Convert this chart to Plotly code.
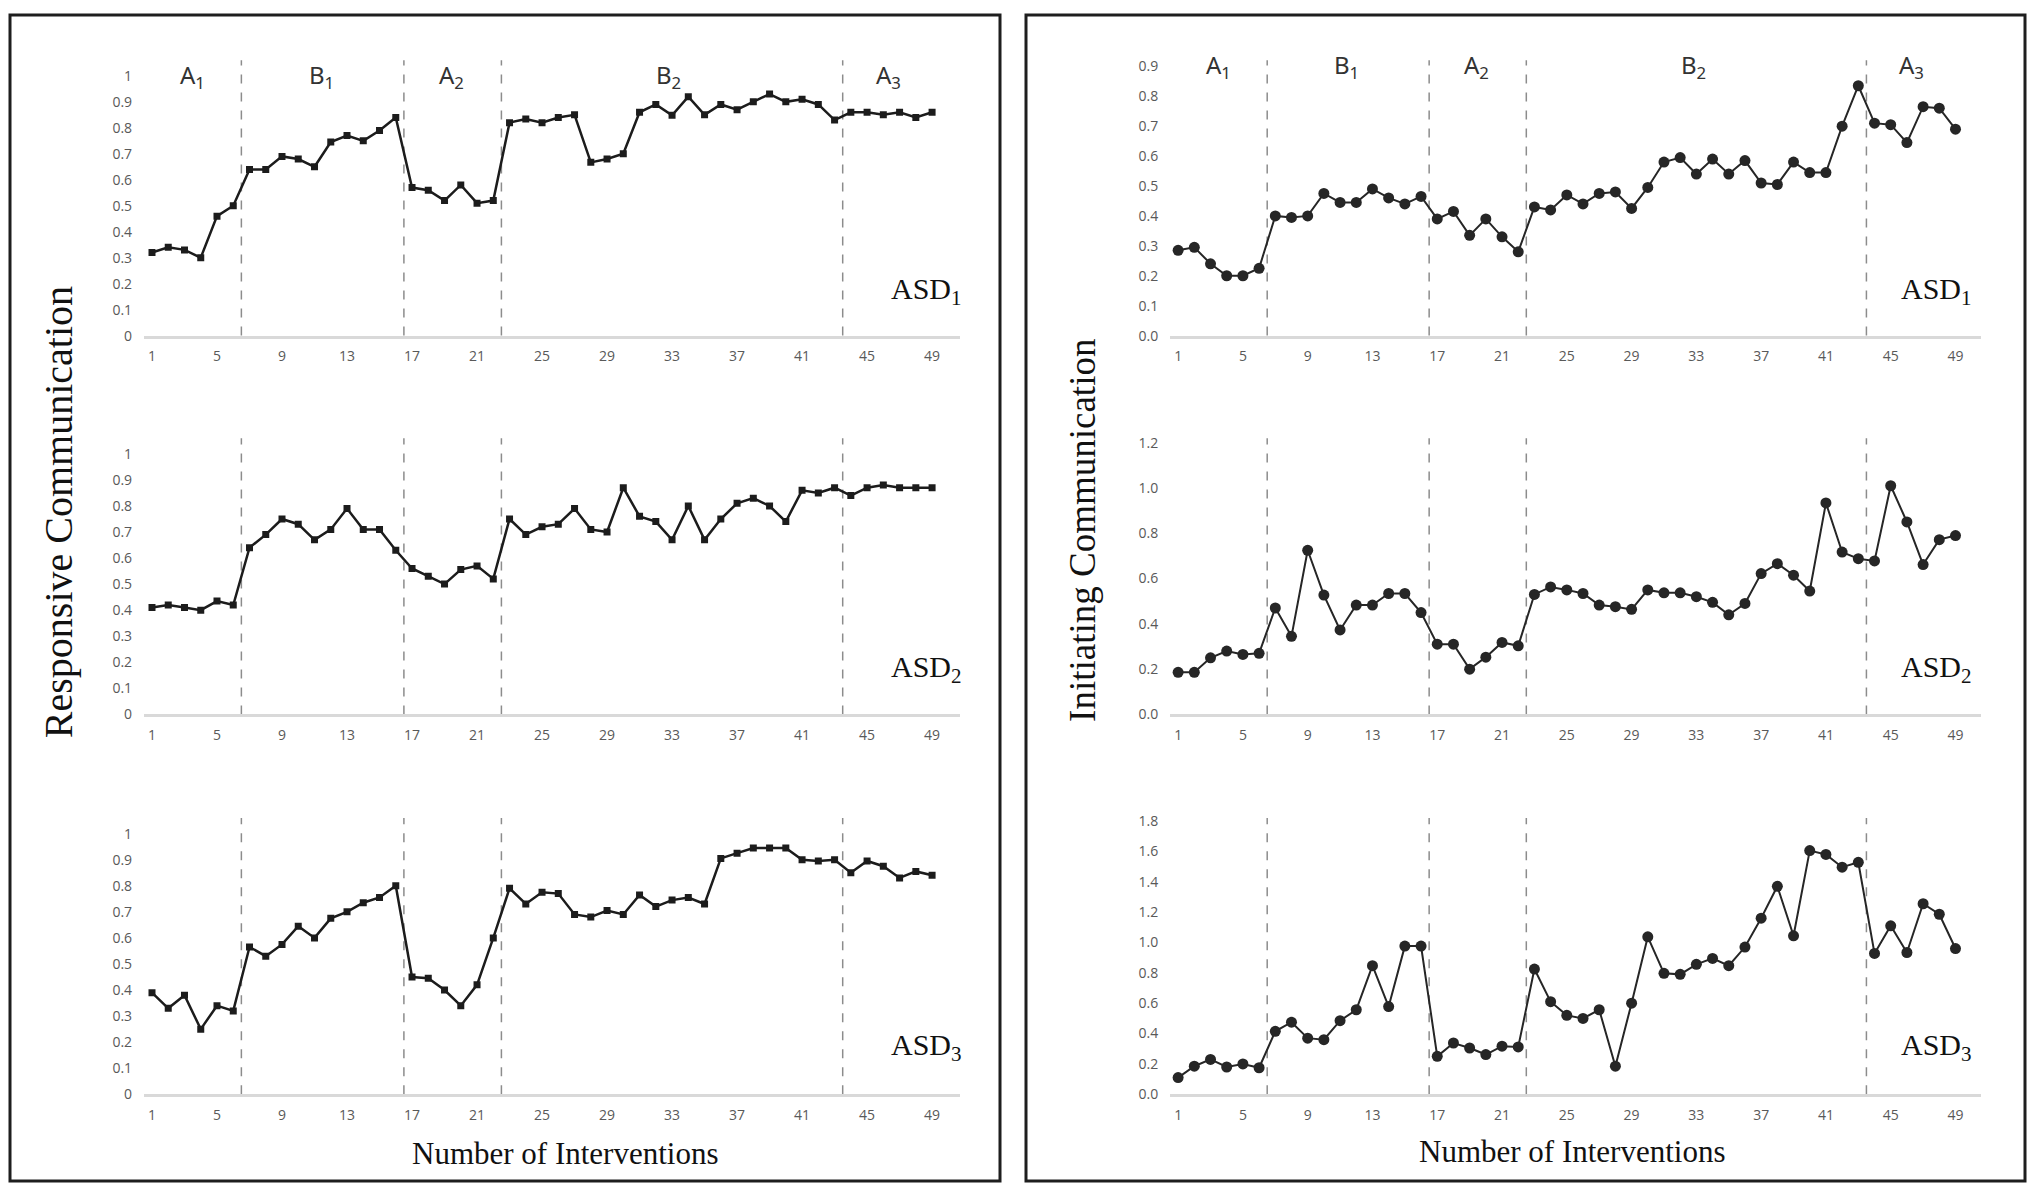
import plotly.graph_objects as go

# ---- data -------------------------------------------------------------
SESSIONS = list(range(1, 50))
PHASE_BREAKS = [6.5, 16.5, 22.5, 43.5]
PHASE_NAMES = ['A<sub>1</sub>', 'B<sub>1</sub>', 'A<sub>2</sub>', 'B<sub>2</sub>', 'A<sub>3</sub>']
PHASE_CENTERS = [3.5, 11.4, 19.4, 32.8, 46.3]
CHILDREN = ['ASD<sub>1</sub>', 'ASD<sub>2</sub>', 'ASD<sub>3</sub>']

resp_asd1 = [0.32, 0.34, 0.33, 0.30, 0.46, 0.50,
             0.64, 0.64, 0.69, 0.68, 0.65, 0.745, 0.77, 0.75, 0.79, 0.84,
             0.57, 0.56, 0.52, 0.58, 0.51, 0.52,
             0.82, 0.834, 0.82, 0.84, 0.85, 0.667, 0.68, 0.70, 0.86, 0.89, 0.848,
             0.92, 0.85, 0.89, 0.87, 0.90, 0.93, 0.90, 0.91, 0.89, 0.83,
             0.86, 0.86, 0.85, 0.86, 0.84, 0.86]
resp_asd2 = [0.41, 0.42, 0.41, 0.40, 0.435, 0.42,
             0.64, 0.69, 0.75, 0.73, 0.67, 0.71, 0.79, 0.71, 0.71, 0.63,
             0.56, 0.53, 0.50, 0.556, 0.57, 0.52,
             0.75, 0.69, 0.72, 0.73, 0.79, 0.71, 0.70, 0.87, 0.76, 0.74, 0.67,
             0.80, 0.67, 0.75, 0.81, 0.83, 0.80, 0.74, 0.86, 0.85, 0.87,
             0.84, 0.87, 0.88, 0.87, 0.87, 0.87]
resp_asd3 = [0.39, 0.33, 0.38, 0.25, 0.34, 0.32,
             0.565, 0.53, 0.575, 0.645, 0.60, 0.675, 0.70, 0.735, 0.755, 0.80,
             0.45, 0.445, 0.40, 0.34, 0.42, 0.60,
             0.79, 0.73, 0.775, 0.77, 0.69, 0.68, 0.705, 0.69, 0.765, 0.72, 0.745,
             0.755, 0.73, 0.905, 0.925, 0.945, 0.945, 0.945, 0.90, 0.895, 0.90,
             0.85, 0.895, 0.875, 0.83, 0.855, 0.84]

init_asd1 = [0.285, 0.295, 0.24, 0.20, 0.20, 0.225,
             0.40, 0.395, 0.40, 0.475, 0.445, 0.445, 0.49, 0.46, 0.44, 0.465,
             0.39, 0.415, 0.335, 0.39, 0.33, 0.28,
             0.43, 0.42, 0.47, 0.44, 0.475, 0.48, 0.425, 0.495, 0.58, 0.595, 0.54,
             0.59, 0.54, 0.585, 0.51, 0.505, 0.58, 0.545, 0.545, 0.70, 0.835,
             0.71, 0.705, 0.645, 0.765, 0.76, 0.69]
init_asd2 = [0.186, 0.186, 0.25, 0.28, 0.265, 0.27,
             0.47, 0.345, 0.725, 0.527, 0.373, 0.483, 0.483, 0.534, 0.534, 0.45,
             0.31, 0.31, 0.20, 0.253, 0.318, 0.303,
             0.53, 0.563, 0.55, 0.534, 0.483, 0.476, 0.464, 0.55, 0.537, 0.537, 0.52,
             0.495, 0.44, 0.49, 0.622, 0.666, 0.615, 0.545, 0.934, 0.717, 0.688,
             0.678, 1.01, 0.85, 0.662, 0.772, 0.79]
init_asd3 = [0.11, 0.185, 0.23, 0.18, 0.20, 0.175,
             0.415, 0.475, 0.37, 0.36, 0.485, 0.557, 0.847, 0.578, 0.976, 0.976,
             0.25, 0.338, 0.305, 0.262, 0.317, 0.312,
             0.825, 0.61, 0.52, 0.50, 0.557, 0.185, 0.60, 1.037, 0.797, 0.79, 0.856,
             0.895, 0.847, 0.97, 1.16, 1.37, 1.044, 1.605, 1.58, 1.496, 1.528,
             0.928, 1.11, 0.934, 1.255, 1.186, 0.96]

RESPONSIVE = [resp_asd1, resp_asd2, resp_asd3]
INITIATING = [init_asd1, init_asd2, init_asd3]
INIT_YMAX = [0.92, 1.22, 1.82]
INIT_DTICK = [0.1, 0.2, 0.2]

# ---- layout -----------------------------------------------------------
W, H = 2032, 1198
ROWS = [[0.7220, 0.9549], [0.4015, 0.6352], [0.0801, 0.3139]]
LEFT_DOM = [0.0708, 0.4723]
RIGHT_DOM = [0.5758, 0.9751]
ASD_Y = [0.7596, 0.4399, 0.1205]

TICK_FONT = dict(family='Open Sans, DejaVu Sans', size=14, color='#595959')
SERIF = 'Liberation Serif, Times New Roman, serif'

_X_STYLE = dict(
    tick0=1, dtick=4,
    showgrid=False, zeroline=False,
    showline=True, linecolor='#d9d9d9', linewidth=2.5,
    ticks='outside', ticklen=6, tickcolor='rgba(0,0,0,0)',
    tickfont=TICK_FONT,
)
_Y_STYLE = dict(
    showgrid=False, zeroline=False, showline=False,
    ticks='outside', ticklen=8, tickcolor='rgba(0,0,0,0)',
    tickfont=TICK_FONT,
)

fig = go.Figure()
layout = {}
shapes = []
annotations = []

panels = []
for r in range(3):
    panels.append(('left', r, RESPONSIVE[r]))
    panels.append(('right', r, INITIATING[r]))

for i, (side, r, values) in enumerate(panels):
    n = i + 1
    xa = 'x' if n == 1 else f'x{n}'
    ya = 'y' if n == 1 else f'y{n}'
    left = side == 'left'

    if left:
        fig.add_trace(go.Scatter(
            x=SESSIONS, y=values, xaxis=xa, yaxis=ya, mode='lines+markers',
            line=dict(color='#1c1c1c', width=2.5),
            marker=dict(symbol='square', size=7, color='#1c1c1c'),
            showlegend=False,
        ))
    else:
        fig.add_trace(go.Scatter(
            x=SESSIONS, y=values, xaxis=xa, yaxis=ya, mode='lines+markers',
            line=dict(color='#262626', width=2),
            marker=dict(symbol='circle', size=11, color='#262626'),
            showlegend=False,
        ))

    layout[f'xaxis{n if n > 1 else ""}'] = dict(
        domain=LEFT_DOM if left else RIGHT_DOM,
        range=[0.5, 50.7] if left else [0.5, 50.6],
        anchor=ya, **_X_STYLE,
    )
    if left:
        ycfg = dict(range=[0, 1.06], dtick=0.1, tick0=0)
    else:
        ycfg = dict(range=[0, INIT_YMAX[r]], dtick=INIT_DTICK[r], tick0=0, tickformat='.1f')
    layout[f'yaxis{n if n > 1 else ""}'] = dict(
        domain=ROWS[r], anchor=xa, **ycfg, **_Y_STYLE,
    )

    for b in PHASE_BREAKS:
        shapes.append(dict(
            type='line', xref=xa, yref=f'{ya} domain', x0=b, x1=b, y0=0, y1=1,
            line=dict(color='#8c8c8c', width=1.5, dash='dash'), layer='below',
        ))

    if r == 0:
        for name, cx in zip(PHASE_NAMES, PHASE_CENTERS):
            annotations.append(dict(
                text=name, xref=xa, yref=ya, x=cx, y=1.0 if left else 0.9,
                showarrow=False, xanchor='center', yanchor='middle',
                font=dict(family='Noto Sans, DejaVu Sans', size=24, color='#333333'),
            ))

    annotations.append(dict(
        text=CHILDREN[r], xref='paper', yref='paper',
        x=(926 if left else 1936) / W, y=ASD_Y[r],
        xanchor='center', yanchor='middle', showarrow=False,
        font=dict(family=SERIF, size=30, color='#111111'),
    ))

# panel frames
for x0, x1 in [(10, 1000), (1026, 2025)]:
    shapes.append(dict(
        type='rect', xref='paper', yref='paper',
        x0=x0 / W, x1=x1 / W, y0=1 - 1190 / H, y1=1 - 8 / H,
        line=dict(color='#1e1e1e', width=3),
    ))

TITLE = dict(xref='paper', yref='paper', showarrow=False, xanchor='center', yanchor='middle')
annotations += [
    dict(text='Responsive Communication', x=58 / W, y=1 - 512 / H, textangle=-90,
         font=dict(family=SERIF, size=40, color='#111111'), **TITLE),
    dict(text='Initiating Communication', x=1083 / W, y=1 - 531 / H, textangle=-90,
         font=dict(family=SERIF, size=37, color='#111111'), **TITLE),
    dict(text='Number of Interventions', x=565 / W, y=1 - 1162 / H,
         font=dict(family=SERIF, size=31, color='#111111'), **TITLE),
    dict(text='Number of Interventions', x=1572 / W, y=1 - 1160 / H,
         font=dict(family=SERIF, size=31, color='#111111'), **TITLE),
]

fig.update_layout(
    width=W, height=H,
    margin=dict(l=0, r=0, t=0, b=0),
    paper_bgcolor='white', plot_bgcolor='white',
    shapes=shapes, annotations=annotations,
    **layout,
)
# the page body has a default 8px margin; drop it so the figure fills the window
fig.write_html(
    "out.html",
    config={'displayModeBar': False},
    post_script="document.body.style.margin='0';document.body.style.overflow='hidden';",
)
